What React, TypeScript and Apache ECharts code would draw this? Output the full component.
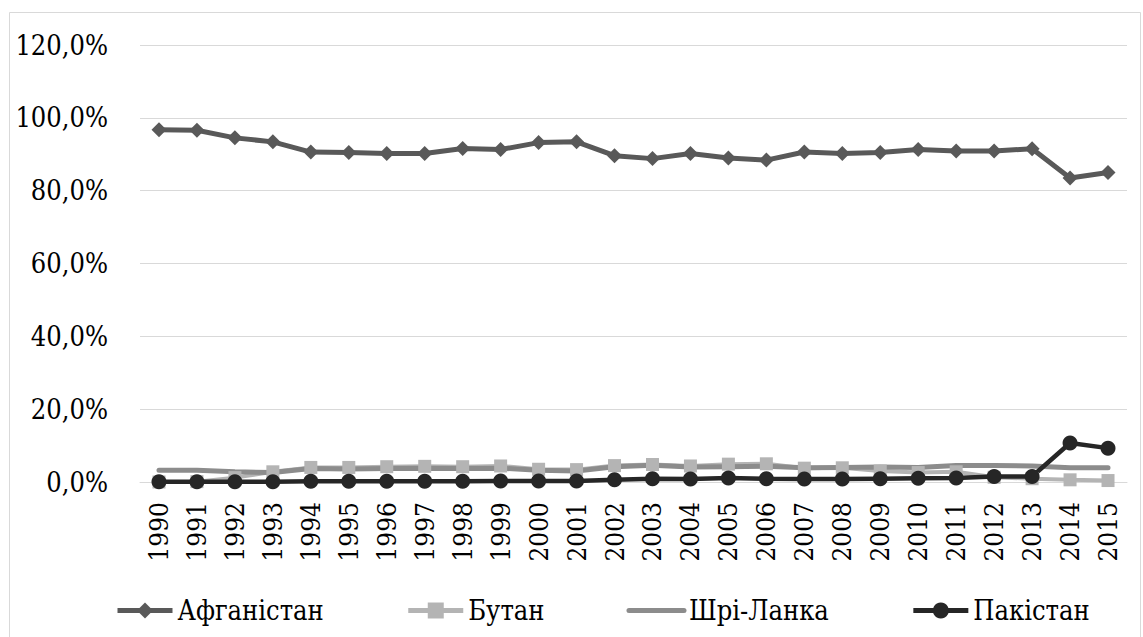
import React, { useEffect, useRef } from "react";
import * as echarts from "echarts";

const years = ["1990","1991","1992","1993","1994","1995","1996","1997","1998","1999","2000","2001","2002","2003","2004","2005","2006","2007","2008","2009","2010","2011","2012","2013","2014","2015"];
const afghanistan = [96.7,96.6,94.5,93.4,90.6,90.5,90.2,90.2,91.6,91.3,93.2,93.4,89.6,88.8,90.2,89.0,88.4,90.6,90.2,90.5,91.3,90.9,90.9,91.5,83.5,85.0];
const bhutan = [0.0,0.1,1.2,2.8,4.0,4.0,4.2,4.3,4.2,4.4,3.5,3.4,4.5,4.8,4.4,4.9,5.0,3.8,3.9,3.0,2.6,2.8,1.3,0.9,0.6,0.4];
const sriLanka = [3.2,3.2,2.8,2.6,3.7,3.6,3.7,3.8,3.7,3.8,3.2,3.0,4.2,4.6,4.1,4.2,4.3,3.9,4.0,4.1,4.0,4.5,4.5,4.4,3.9,3.9];
const pakistan = [0.1,0.1,0.1,0.1,0.2,0.2,0.2,0.2,0.2,0.3,0.3,0.3,0.6,0.9,0.8,1.1,0.9,0.8,0.8,0.9,1.0,1.1,1.5,1.5,10.7,9.3];
const seriesNames = ["Афганістан", "Бутан", "Шрі-Ланка", "Пакістан"];
const colors = ["#595959", "#b4b4b4", "#8c8c8c", "#262626"];

const FONT = "DejaVu Serif Condensed";

export default function App() {
  const ref = useRef<HTMLDivElement>(null);
  useEffect(() => {
    const chart = echarts.init(ref.current!, null, { renderer: "svg" });
    chart.setOption({
      animation: false,
      backgroundColor: "#ffffff",
      textStyle: { fontFamily: FONT, color: "#000" },
      graphic: [
        {
          type: "rect",
          shape: { x: 9.5, y: 12.5, width: 1131, height: 700 },
          style: { fill: "none", stroke: "#d9d9d9", lineWidth: 1 },
          silent: true,
        },
      ],
      grid: { left: 140, right: 16, top: 45, bottom: 155, containLabel: false },
      legend: {
        left: 110,
        top: 592,
        itemWidth: 55,
        itemHeight: 20,
        itemGap: 82,
        textStyle: { fontFamily: FONT, fontSize: 27, color: "#000" },
        data: [
          { name: seriesNames[0], lineStyle: { width: 5 } },
          { name: seriesNames[1], lineStyle: { width: 5 } },
          { name: seriesNames[2], lineStyle: { width: 5 }, itemStyle: { opacity: 0 } },
          { name: seriesNames[3], lineStyle: { width: 5 } },
        ],
      },
      xAxis: {
        type: "category",
        data: years,
        boundaryGap: true,
        axisLine: { lineStyle: { color: "#d9d9d9", width: 1 } },
        axisTick: { show: false },
        axisLabel: {
          rotate: 90,
          margin: 20,
          fontFamily: FONT,
          fontSize: 26,
          color: "#000",
          interval: 0,
        },
      },
      yAxis: {
        type: "value",
        min: 0,
        max: 120,
        interval: 20,
        axisLine: { show: false },
        axisTick: { show: false },
        splitLine: { lineStyle: { color: "#d9d9d9", width: 1 } },
        axisLabel: {
          margin: 32,
          fontFamily: FONT,
          fontSize: 27,
          color: "#000",
          formatter: (v: number) => v.toFixed(1).replace(".", ",") + "%",
        },
      },
      series: [
        {
          name: seriesNames[0],
          type: "line",
          data: afghanistan,
          symbol: "diamond",
          symbolSize: 15,
          lineStyle: { color: colors[0], width: 5 },
          itemStyle: { color: colors[0] },
        },
        {
          name: seriesNames[1],
          type: "line",
          data: bhutan,
          symbol: "rect",
          symbolSize: 13,
          lineStyle: { color: colors[1], width: 4 },
          itemStyle: { color: colors[1] },
        },
        {
          name: seriesNames[2],
          type: "line",
          data: sriLanka,
          symbol: "none",
          showSymbol: false,
          lineStyle: { color: colors[2], width: 5, cap: "round" },
          itemStyle: { color: colors[2] },
        },
        {
          name: seriesNames[3],
          type: "line",
          data: pakistan,
          symbol: "circle",
          symbolSize: 15,
          lineStyle: { color: colors[3], width: 4.5 },
          itemStyle: { color: colors[3] },
        },
      ],
    });
    return () => chart.dispose();
  }, []);
  return (
    <div
      ref={ref}
      style={{ position: "fixed", left: 0, top: 0, width: 1143, height: 637, background: "#fff" }}
    />
  );
}
